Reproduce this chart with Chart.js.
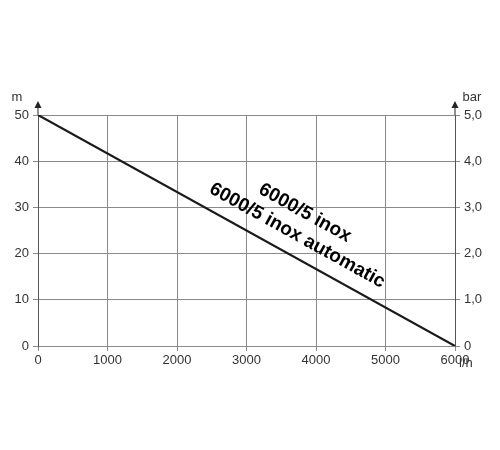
<!DOCTYPE html>
<html>
<head>
<meta charset="utf-8">
<script src="https://cdn.jsdelivr.net/npm/chart.js@4"></script>
<style>
  body { margin: 0; background: #fff; }
  #wrap { width: 500px; height: 450px; }
</style>
</head>
<body>
<div id="wrap"><canvas id="c" width="500" height="450"></canvas></div>
<script>
// данные
const flow = [0, 6000];
const head = [50, 0];
const xTicks = [0, 1000, 2000, 3000, 4000, 5000, 6000];
const labels = ['6000/5 inox', '6000/5 inox automatic'];

const gridColor = '#8a8a8a';
const textColor = '#333';

// подписи, стрелки и названия
const extras = {
  id: 'extras',
  afterDraw(chart) {
    const { ctx, chartArea: a, scales } = chart;
    ctx.save();
    ctx.fillStyle = '#222';
    ctx.strokeStyle = '#222';
    ctx.lineWidth = 1;
    [a.left, a.right].forEach(x => {
      ctx.beginPath();
      ctx.moveTo(x, a.top);
      ctx.lineTo(x, a.top - 8);
      ctx.stroke();
      ctx.beginPath();
      ctx.moveTo(x - 3.5, a.top - 7);
      ctx.lineTo(x + 3.5, a.top - 7);
      ctx.lineTo(x, a.top - 14);
      ctx.closePath();
      ctx.fill();
    });
    ctx.fillStyle = textColor;
    ctx.font = '13px Arial, "Liberation Sans", sans-serif';
    ctx.textBaseline = 'middle';
    ctx.textAlign = 'center';
    ctx.fillText('m', 17, a.top - 18);
    ctx.fillText('bar', a.right + 17, a.top - 18);
    ctx.textAlign = 'left';
    ctx.fillText('l/h', a.right + 4, a.bottom + 17);

    // названия вдоль линии
    const ang = Math.atan2(scales.y.getPixelForValue(0) - scales.y.getPixelForValue(50),
                           scales.x.getPixelForValue(6000) - scales.x.getPixelForValue(0));
    ctx.fillStyle = '#000';
    ctx.font = 'bold 19px Arial, "Liberation Sans", sans-serif';
    ctx.textAlign = 'center';
    const put = (txt, xv, yv) => {
      ctx.save();
      ctx.translate(scales.x.getPixelForValue(xv), scales.y.getPixelForValue(yv));
      ctx.rotate(ang);
      ctx.fillText(txt, 0, 0);
      ctx.restore();
    };
    put(labels[0], 3840, 28.8);
    put(labels[1], 3730, 23.9);
    ctx.restore();
  }
};

new Chart(document.getElementById('c'), {
  type: 'scatter',
  data: {
    datasets: [{
      data: flow.map((f, i) => ({ x: f, y: head[i] })),
      showLine: true,
      borderColor: '#1a1a1a',
      borderWidth: 2.2,
      pointRadius: 0
    }]
  },
  options: {
    responsive: false,
    animation: false,
    layout: { padding: { top: 115, left: 0, right: 0, bottom: 0 } },
    plugins: { legend: { display: false }, tooltip: { enabled: false } },
    scales: {
      x: {
        type: 'linear', min: 0, max: 6000,
        afterBuildTicks: s => { s.ticks = xTicks.map(v => ({ value: v })); },
        afterFit: s => { s.height = 104; },
        grid: { color: gridColor, tickLength: 5 },
        border: { color: gridColor },
        ticks: { color: textColor, font: { size: 13, family: 'Arial' }, padding: 2, maxRotation: 0,
                 callback: v => String(v) }
      },
      y: {
        min: 0, max: 50,
        afterFit: s => { s.width = 38; },
        grid: { color: gridColor, tickLength: 5 },
        border: { color: '#555' },
        ticks: { stepSize: 10, color: textColor, font: { size: 13, family: 'Arial' }, padding: 4 }
      },
      y2: {
        position: 'right', min: 0, max: 5,
        afterFit: s => { s.width = 45; },
        grid: { drawOnChartArea: false, color: gridColor, tickLength: 5 },
        border: { color: '#555' },
        ticks: {
          stepSize: 1, color: textColor, font: { size: 13, family: 'Arial' }, padding: 4,
          callback: v => v === 0 ? '0' : v.toFixed(1).replace('.', ',')
        }
      }
    }
  },
  plugins: [extras]
});
</script>
</body>
</html>
